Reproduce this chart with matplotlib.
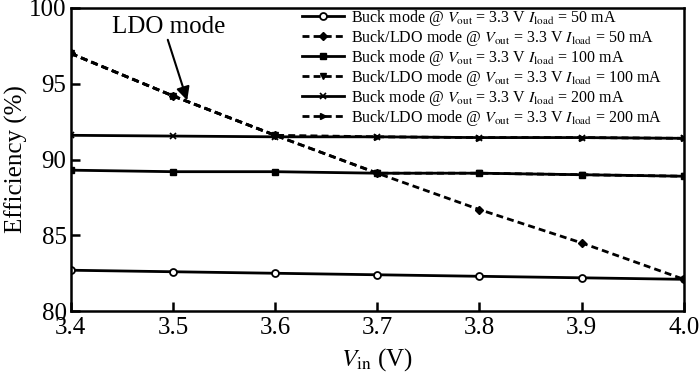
import numpy as np
import matplotlib
matplotlib.use('Agg')
from matplotlib import pyplot as plt

plt.rcParams['font.family'] = ['Liberation Serif', 'DejaVu Serif']
plt.rcParams['mathtext.fontset'] = 'stix'

vin = [3.4, 3.5, 3.6, 3.7, 3.8, 3.9, 4.0]

buck_50 = [82.7, 82.6, 82.5, 82.4, 82.3, 82.2, 82.1]
ldo_50 = [97.0, 94.2, 91.6, 89.1, 86.7, 84.5, 82.1]
buck_100 = [89.3, 89.2, 89.2, 89.1, 89.1, 89.0, 88.9]
ldo_100 = [97.0, 94.2, 91.6, 89.1, 89.1, 89.0, 88.9]
buck_200 = [91.6, 91.55, 91.5, 91.5, 91.45, 91.45, 91.4]
ldo_200 = [97.0, 94.2, 91.6, 91.5, 91.45, 91.45, 91.4]

labels = [
    r'Buck mode @ $V_{\rm out}$ = 3.3 V $I_{\rm load}$ = 50 mA',
    r'Buck/LDO mode @ $V_{\rm out}$ = 3.3 V $I_{\rm load}$ = 50 mA',
    r'Buck mode @ $V_{\rm out}$ = 3.3 V $I_{\rm load}$ = 100 mA',
    r'Buck/LDO mode @ $V_{\rm out}$ = 3.3 V $I_{\rm load}$ = 100 mA',
    r'Buck mode @ $V_{\rm out}$ = 3.3 V $I_{\rm load}$ = 200 mA',
    r'Buck/LDO mode @ $V_{\rm out}$ = 3.3 V $I_{\rm load}$ = 200 mA',
]

fig = plt.figure(figsize=(7, 3.79), dpi=100)
ax = fig.add_axes([0.101, 0.179, 0.876, 0.800])

dash = (0, (2.5, 1.5))
lw = 2
ax.plot(vin, buck_50, '-', color='k', lw=lw, marker='o', mfc='white', ms=5, mew=1.3, label=labels[0])
ax.plot(vin, ldo_50, linestyle=dash, color='k', lw=lw, marker='D', ms=4.5, label=labels[1])
ax.plot(vin, buck_100, '-', color='k', lw=lw, marker='s', ms=5, label=labels[2])
ax.plot(vin, ldo_100, linestyle=dash, color='k', lw=lw, marker='v', ms=5, label=labels[3])
ax.plot(vin, buck_200, '-', color='k', lw=lw, marker='x', ms=4, mew=1.2, label=labels[4])
ax.plot(vin, ldo_200, linestyle=dash, color='k', lw=lw, marker='>', ms=5, label=labels[5])

ax.set_xlim(3.4, 4.0)
ax.set_ylim(80, 100)
ax.set_xticks([3.4, 3.5, 3.6, 3.7, 3.8, 3.9, 4.0])
ax.set_yticks([80, 85, 90, 95, 100])
ax.tick_params(direction='in', length=6.5, width=1.8, labelsize=18)
ax.tick_params(axis='x', pad=4)
ax.tick_params(axis='y', pad=3)
for s in ax.spines.values():
    s.set_linewidth(1.8)

ax.set_xlabel(r'$V_{\rm in}$ (V)', fontsize=18, labelpad=5)
ax.set_ylabel('Efficiency (%)', fontsize=18, labelpad=1)

ax.text(3.44, 98.75, 'LDO mode', fontsize=18, va='center', ha='left')
ax.annotate('', xy=(3.514, 93.9), xytext=(3.495, 97.9),
            arrowprops=dict(arrowstyle='-|>', color='k', lw=1.5, mutation_scale=20,
                            shrinkA=0, shrinkB=0))

leg = ax.legend(loc='upper right', bbox_to_anchor=(0.965, 1.0), fontsize=11.5,
                frameon=False, borderaxespad=0, borderpad=0, handlelength=2.65,
                labelspacing=0.0, handletextpad=0.45)

fig.savefig('out.png', dpi=100)
